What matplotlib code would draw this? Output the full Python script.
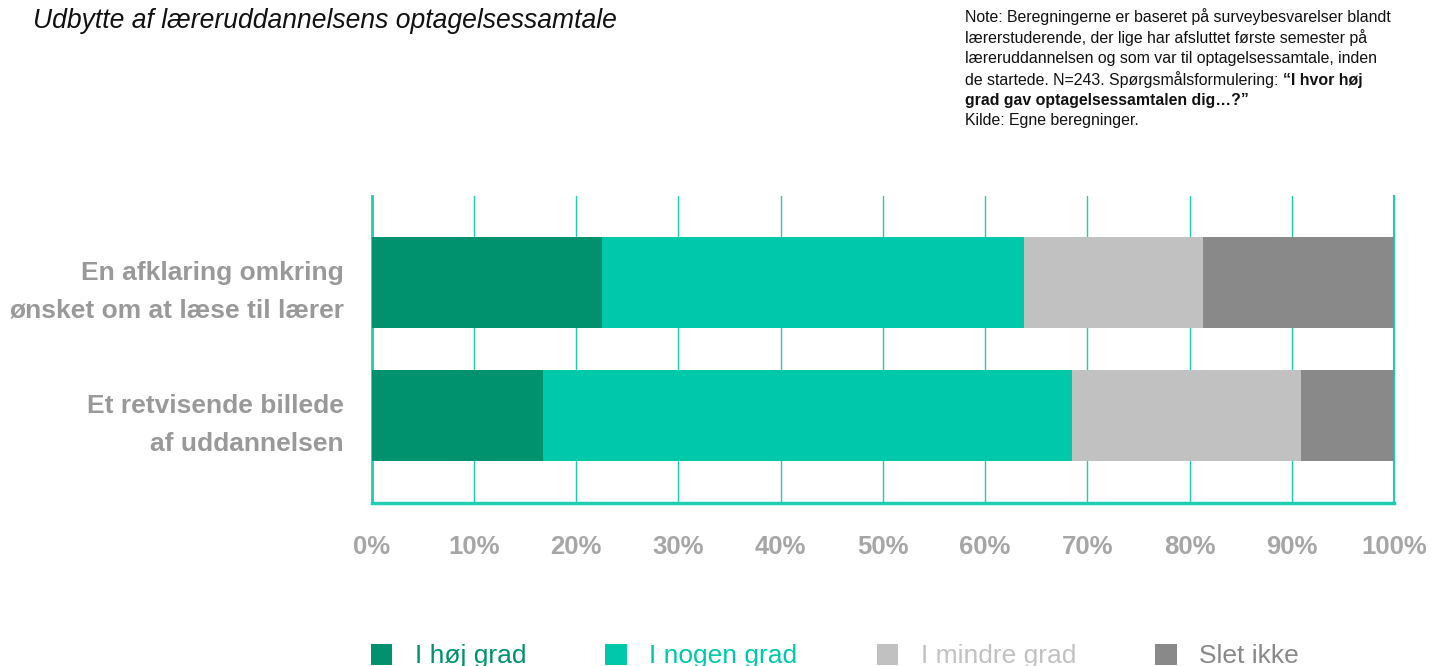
import matplotlib.pyplot as plt
from matplotlib.patches import Patch

plt.rcParams['font.family'] = ['Liberation Sans', 'DejaVu Sans']

# data (percent of respondents)
categories = ['Et retvisende billede\naf uddannelsen',
              'En afklaring omkring\nønsket om at læse til lærer']
series_names = ['I høj grad', 'I nogen grad', 'I mindre grad', 'Slet ikke']
hoej_grad = [16.8, 22.5]
nogen_grad = [51.7, 41.3]
mindre_grad = [22.4, 17.5]
slet_ikke = [9.1, 18.7]
xticks = [0, 10, 20, 30, 40, 50, 60, 70, 80, 90, 100]

title = 'Udbytte af læreruddannelsens optagelsessamtale'
note_lines = [
    'Note: Beregningerne er baseret på surveybesvarelser blandt',
    'lærerstuderende, der lige har afsluttet første semester på',
    'læreruddannelsen og som var til optagelsessamtale, inden',
]
note_line4 = 'de startede. N=243. Spørgsmålsformulering: '
note_bold4 = '“I hvor høj'
note_bold5 = 'grad gav optagelsessamtalen dig…?”'
note_source = 'Kilde: Egne beregninger.'

colors = ['#00916e', '#00c8aa', '#c1c1c1', '#898989']
teal_line = '#1fcdb0'

fig = plt.figure(figsize=(14.31, 6.66), dpi=100)
ax = fig.add_axes([371.5 / 1431, 1 - 502.7 / 666, (1394 - 371.5) / 1431, (502.7 - 196) / 666])

# stacked horizontal bars
y = range(len(categories))
left = [0] * len(categories)
for name, vals, col in zip(series_names, [hoej_grad, nogen_grad, mindre_grad, slet_ikke], colors):
    ax.barh(y, vals, left=left, height=0.684, color=col, zorder=3, label=name)
    left = [l + v for l, v in zip(left, vals)]

ax.set_xlim(0, 100)
ax.set_ylim(-0.656, 1.65)
ax.set_xticks(xticks)
ax.set_xticklabels([f'{t}%' for t in xticks])
ax.set_yticks(list(y))
ax.set_yticklabels(categories, linespacing=1.72)

ax.tick_params(axis='x', length=0, pad=23, labelsize=18.5, labelcolor='#a6a6a6')
ax.tick_params(axis='y', length=0, pad=20, labelsize=19, labelcolor='#999999')
for lab in ax.get_xticklabels() + ax.get_yticklabels():
    lab.set_fontweight('bold')

# gridlines and spines
ax.grid(True, axis='x', color=teal_line, linewidth=1, zorder=1)
ax.axvline(100, color=teal_line, linewidth=1.5, zorder=1, clip_on=False)
ax.spines['top'].set_visible(False)
ax.spines['right'].set_visible(False)
ax.spines['left'].set_color(teal_line)
ax.spines['bottom'].set_color(teal_line)
ax.spines['left'].set_linewidth(2)
ax.spines['bottom'].set_linewidth(2.5)

# title + note
fig.text(33 / 1431, 1 - 21 / 666, title, fontsize=19.1, style='italic', color='#111111', va='center', ha='left')

nx = 965 / 1431
fs_note = 11.4
line_h = 20.8
for i, line in enumerate(note_lines):
    fig.text(nx, 1 - (17 + i * line_h) / 666, line, fontsize=fs_note, color='#111111', va='center')
t4 = fig.text(nx, 1 - (17 + 3 * line_h) / 666, note_line4, fontsize=fs_note, color='#111111', va='bottom')
ax.annotate(note_bold4, xy=(1, 0), xycoords=t4, fontsize=fs_note, fontweight='bold',
            color='#111111', va='bottom', ha='left', annotation_clip=False)
# shift line 4 so its centre sits on the line grid
t4.set_va('center')
fig.text(nx, 1 - (17 + 4 * line_h) / 666, note_bold5, fontsize=fs_note, fontweight='bold', color='#111111', va='center')
fig.text(nx, 1 - (17 + 5 * line_h) / 666, note_source, fontsize=fs_note, color='#111111', va='center')

# legend with coloured labels
handles = [Patch(facecolor=c, edgecolor='none') for c in colors]
leg = fig.legend(handles, series_names, loc='upper left', bbox_to_anchor=(360 / 1431, 1 - 633 / 666),
                 ncol=4, frameon=False, fontsize=19, handlelength=0.82, handleheight=0.85,
                 handletextpad=0.85, columnspacing=3.0, borderaxespad=0)
for txt, c in zip(leg.get_texts(), colors):
    txt.set_color(c)

plt.savefig('out.png', dpi=100)
